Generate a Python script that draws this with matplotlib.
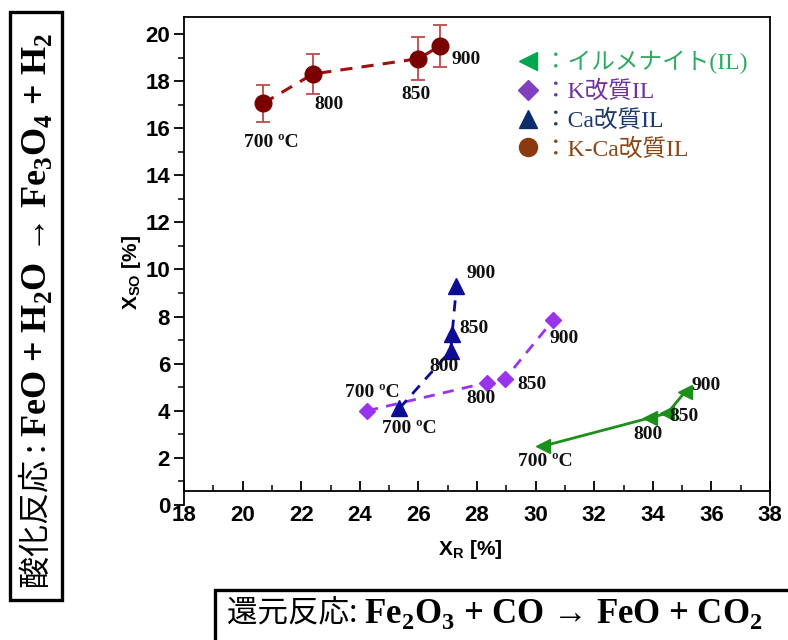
import matplotlib
matplotlib.use("Agg")
import matplotlib.pyplot as plt
from matplotlib.lines import Line2D
from matplotlib.patches import Rectangle
from matplotlib.ticker import MultipleLocator

plt.rcParams['mathtext.fontset'] = 'custom'
plt.rcParams['mathtext.rm'] = 'Liberation Serif:bold'
plt.rcParams['mathtext.bf'] = 'Liberation Serif:bold'
plt.rcParams['mathtext.sf'] = 'Liberation Sans:bold'

# ---- data ----
temp_labels = ['700 ºC', '800', '850', '900']

il_x = [30.25, 33.9, 34.5, 35.1]
il_y = [2.5, 3.7, 3.9, 4.8]

k_x = [24.25, 28.35, 28.95, 30.6]
k_y = [4.0, 5.2, 5.35, 7.85]

ca_x = [25.35, 27.1, 27.15, 27.3]
ca_y = [4.1, 6.55, 7.25, 9.3]

kca_x = [20.7, 22.4, 26.0, 26.75]
kca_y = [17.05, 18.3, 18.95, 19.5]
kca_err = [0.8, 0.85, 0.9, 0.9]

legend_labels = ['：イルメナイト(IL)', '：K改質IL', '：Ca改質IL', '：K-Ca改質IL']

# ---- figure ----
W, H = 788, 640
fig = plt.figure(figsize=(W / 100, H / 100), dpi=100)
ax = fig.add_axes([184 / W, (H - 505) / H, (770 - 184) / W, (505 - 17) / H])
ax.set_xlim(18, 38)
ax.set_ylim(0, 20.72)

c_il, c_k, c_ca, c_kca = '#1a8f1a', '#9933ee', '#0c0c96', '#7a0000'

ax.plot(il_x, il_y, '-', color=c_il, lw=2.0, zorder=2)
ax.plot(il_x, il_y, '<', color=c_il, ms=10, ls='none', zorder=3)

ax.plot(k_x, k_y, '--', color=c_k, lw=2.0, dashes=(4, 3), zorder=2)
ax.plot(k_x, k_y, 'D', color=c_k, ms=8, ls='none', zorder=3)

ax.plot(ca_x, ca_y, '--', color=c_ca, lw=2.0, dashes=(4, 3), zorder=2)
ax.plot(ca_x, ca_y, '^', color=c_ca, ms=12, ls='none', zorder=3)

ax.plot(kca_x, kca_y, '--', color='#a01010', lw=2.2, dashes=(4, 3), zorder=2)
ax.errorbar(kca_x, kca_y, yerr=kca_err, fmt='o', color=c_kca, ms=12,
            ecolor='#c04848', elinewidth=1.3, capsize=5, capthick=1.3, zorder=3)

# point labels (offsets in pixels)
lab_font = dict(family='Liberation Serif', weight='bold', fontsize=14, color='#111111')
off_kca = [(8, -39), (16, -31), (-2, -36), (26, -14)]
off_ca = [(10, -20), (-7, -16), (22, 6), (25, 12)]
off_k = [(5, 18), (-6, -16), (27, -6), (11, -18)]
off_il = [(2, -15), (-2, -17), (17, -3), (21, 6)]
for xs, ys, offs in [(kca_x, kca_y, off_kca), (ca_x, ca_y, off_ca),
                     (k_x, k_y, off_k), (il_x, il_y, off_il)]:
    for x, y, lab, (dx, dy) in zip(xs, ys, temp_labels, offs):
        ax.annotate(lab, (x, y), xytext=(dx, dy), textcoords='offset pixels',
                    ha='center', va='center', **lab_font)

# spines / ticks
for s in ['top', 'right', 'left', 'bottom']:
    ax.spines[s].set_linewidth(1.3)
ax.spines['bottom'].set_position(('data', 0.6))
ax.xaxis.set_major_locator(MultipleLocator(2))
ax.xaxis.set_minor_locator(MultipleLocator(1))
ax.yaxis.set_major_locator(MultipleLocator(2))
ax.yaxis.set_minor_locator(MultipleLocator(1))
ax.tick_params(axis='x', which='major', direction='in', length=7, width=1.3, pad=10)
ax.tick_params(axis='x', which='minor', direction='in', length=4, width=1.1)
ax.tick_params(axis='y', which='major', direction='out', length=7, width=1.3, pad=3)
ax.tick_params(axis='y', which='minor', direction='out', length=4, width=1.1)
for t in ax.get_xticklabels() + ax.get_yticklabels():
    t.set_fontfamily('Liberation Sans')
    t.set_fontweight('bold')
    t.set_fontsize(16)

ax.set_xlabel('X$_{\\mathsf{R}}$ [%]', family='Liberation Sans', weight='bold', fontsize=15)
ax.set_ylabel('X$_{\\mathsf{SO}}$ [%]', family='Liberation Sans', weight='bold', fontsize=15)
ax.xaxis.set_label_coords((470 - 184) / 586, (505 - 538) / 488)
ax.yaxis.set_label_coords((143 - 184) / 586, (505 - 272) / 488)

# legend
handles = [
    Line2D([], [], ls='none', marker='<', ms=13, color='#00a550'),
    Line2D([], [], ls='none', marker='D', ms=10, color='#7f3fbf'),
    Line2D([], [], ls='none', marker='^', ms=13, color='#0d2a6b'),
    Line2D([], [], ls='none', marker='o', ms=13, color='#8b3a0f'),
]
leg = ax.legend(handles, legend_labels, loc='upper left',
                bbox_to_anchor=(516 / W, (H - 51) / H), bbox_transform=fig.transFigure,
                frameon=False, borderpad=0, borderaxespad=0, handlelength=1.0,
                handletextpad=0.2, labelspacing=0.27,
                prop={'family': ['Liberation Serif', 'Noto Sans CJK JP'], 'size': 17})
for txt, col in zip(leg.get_texts(), ['#2eaa60', '#7030a0', '#1f3a6e', '#8b4513']):
    txt.set_color(col)

# left box (oxidation reaction)
fig.patches.append(Rectangle((10 / W, (H - 600) / H), 52 / W, 588 / H,
                             transform=fig.transFigure, fill=False, lw=2.4,
                             edgecolor='black', zorder=5))
t1 = fig.text(37 / W, (H - 588) / H, '酸化反応 : ', rotation=90, ha='center', va='bottom',
              family=['Noto Sans CJK JP', 'DejaVu Sans'], fontsize=23, color='black')
ax.annotate('FeO + H$_{2}$O → Fe$_{3}$O$_{4}$ + H$_{2}$', xy=(0.5, 1.0), xycoords=t1,
            rotation=90, ha='center', va='bottom', family='Liberation Serif',
            weight='bold', fontsize=26, annotation_clip=False)

# bottom box (reduction reaction)
fig.patches.append(Rectangle((215 / W, -10 / H), 600 / W, (H - 590 + 10) / H,
                             transform=fig.transFigure, fill=False, lw=2.4,
                             edgecolor='black', zorder=5, clip_on=False))
t2 = fig.text(227 / W, (H - 614) / H, '還元反応: ', ha='left', va='center',
              family=['Noto Sans CJK JP', 'DejaVu Sans'], fontsize=22, color='black')
ax.annotate('Fe$_{2}$O$_{3}$ + CO → FeO + CO$_{2}$', xy=(1.0, 0.5), xycoords=t2,
            ha='left', va='center', family='Liberation Serif',
            weight='bold', fontsize=25, annotation_clip=False)

fig.savefig('out.png', dpi=100)
